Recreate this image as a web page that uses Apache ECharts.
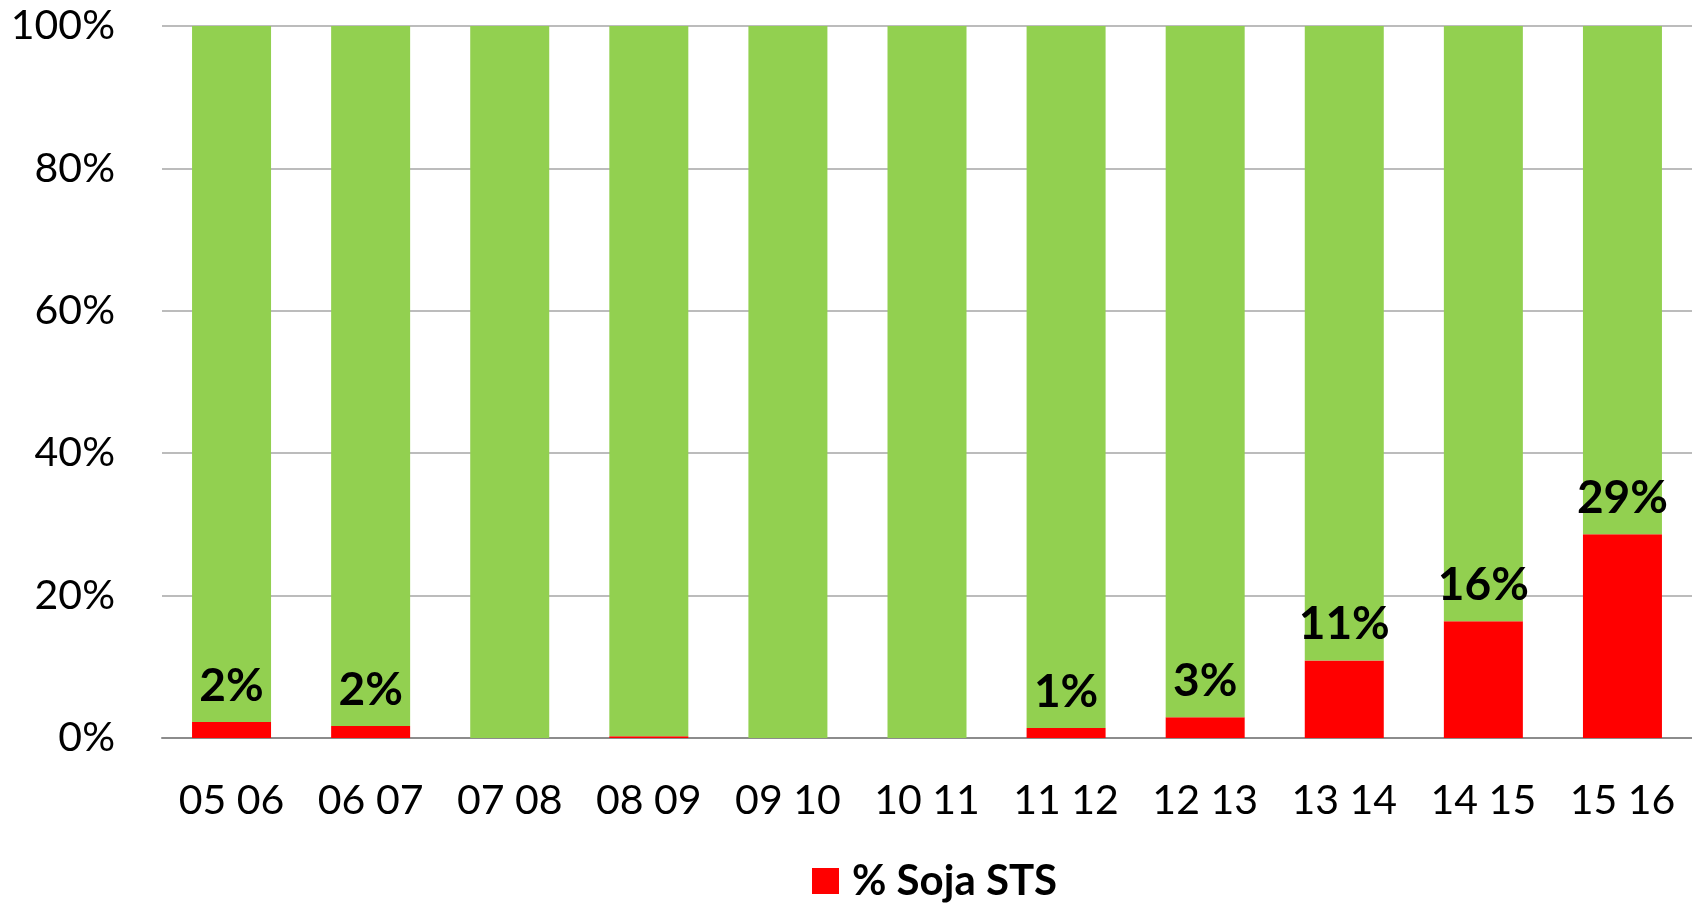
<!DOCTYPE html>
<html><head><meta charset="utf-8">
<script src="https://cdn.jsdelivr.net/npm/echarts@6/dist/echarts.min.js"></script>
<style>html,body{margin:0;padding:0;background:#fff}#c{width:1692px;height:905px}</style>
</head><body><div id="c"></div>
<script>
const categories = ['05 06','06 07','07 08','08 09','09 10','10 11','11 12','12 13','13 14','14 15','15 16'];
const stsShare = [2.25, 1.7, 0, 0.25, 0, 0, 1.4, 2.9, 10.9, 16.4, 28.6];
const otherShare = [97.75, 98.3, 100, 99.75, 100, 100, 98.6, 97.1, 89.1, 83.6, 71.4];
const yTicks = [0, 20, 40, 60, 80, 100];

const chart = echarts.init(document.getElementById('c'), null, {renderer: 'canvas'});
chart.setOption({
  animation: false,
  backgroundColor: '#ffffff',
  grid: {left: 162, right: 0, top: 26, bottom: 167, containLabel: false},
  legend: {
    data: [{name: '% Soja STS', icon: 'rect'}],
    top: 860, left: 812, padding: 0,
    itemWidth: 27, itemHeight: 26, itemGap: 10,
    textStyle: {fontFamily: 'Lato', fontWeight: 'bold', fontSize: 42, color: '#000', padding: [0, 0, 0, 8]}
  },
  xAxis: {
    type: 'category', data: categories,
    axisLine: {lineStyle: {color: '#8c8c8c', width: 2}},
    axisTick: {show: false},
    axisLabel: {fontFamily: 'Lato', fontSize: 41, color: '#000', margin: 42}
  },
  yAxis: {
    type: 'value', min: yTicks[0], max: yTicks[yTicks.length - 1], interval: 20,
    axisLine: {show: false}, axisTick: {show: false},
    splitLine: {lineStyle: {color: '#a6a6a6', width: 1.5}},
    axisLabel: {fontFamily: 'Lato', fontSize: 41, color: '#000', margin: 47,
      formatter: v => v + '%'}
  },
  series: [
    {
      name: '% Soja STS', type: 'bar', stack: 's', data: stsShare,
      barWidth: 79,
      itemStyle: {color: '#ff0000'},
      label: {
        show: true, position: 'top', distance: 13,
        fontFamily: 'Lato', fontWeight: 'bold', fontSize: 46, color: '#000',
        formatter: p => p.value >= 1 ? Math.round(p.value) + '%' : ''
      }
    },
    {
      name: 'Otra', type: 'bar', stack: 's', data: otherShare,
      barWidth: 79,
      itemStyle: {color: '#92d050'}
    }
  ]
});
</script></body></html>
